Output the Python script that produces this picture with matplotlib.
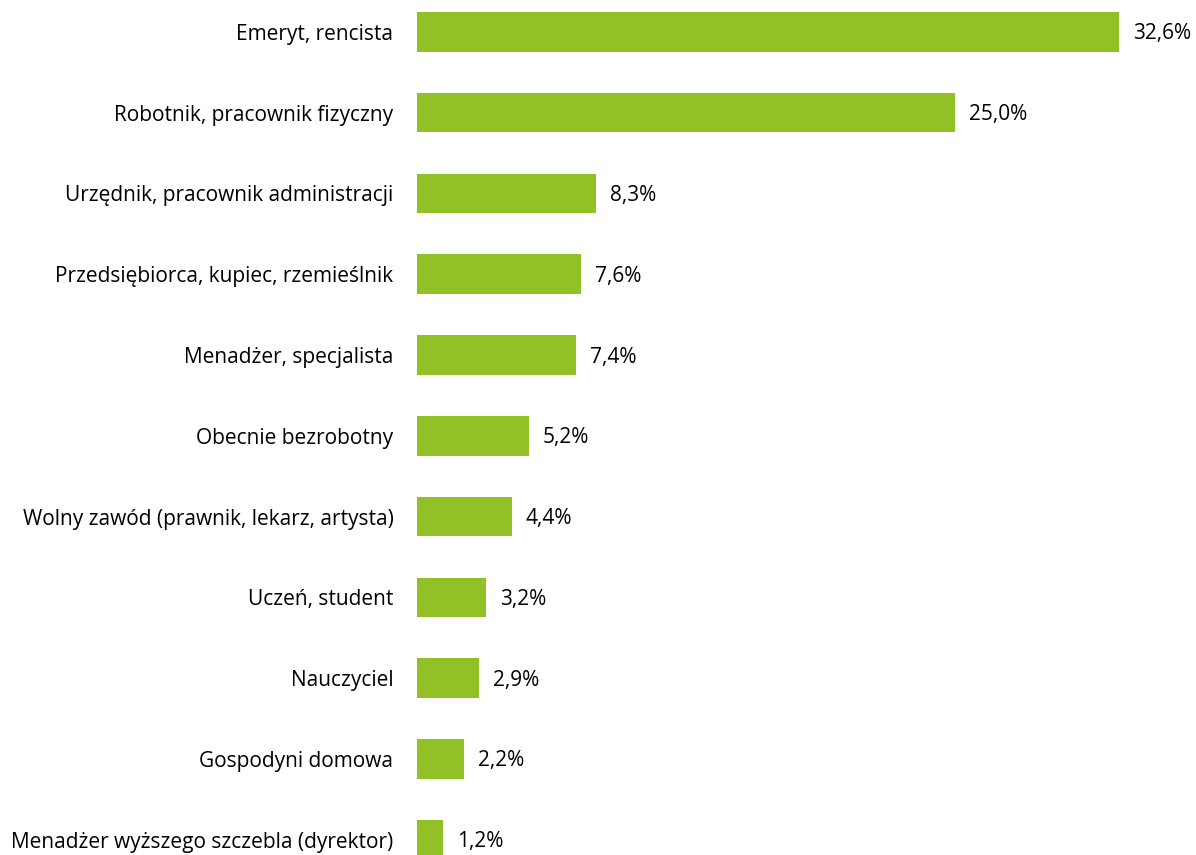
import matplotlib.pyplot as plt

plt.rcParams['font.family'] = ['Open Sans', 'DejaVu Sans']

categories = ["Emeryt, rencista", "Robotnik, pracownik fizyczny",
              "Urzędnik, pracownik administracji", "Przedsiębiorca, kupiec, rzemieślnik",
              "Menadżer, specjalista", "Obecnie bezrobotny",
              "Wolny zawód (prawnik, lekarz, artysta)", "Uczeń, student",
              "Nauczyciel", "Gospodyni domowa", "Menadżer wyższego szczebla (dyrektor)"]
values = [32.6, 25.0, 8.3, 7.6, 7.4, 5.2, 4.4, 3.2, 2.9, 2.2, 1.2]
labels = ["32,6%", "25,0%", "8,3%", "7,6%", "7,4%", "5,2%", "4,4%", "3,2%", "2,9%", "2,2%", "1,2%"]

W, H = 1196, 855
fig = plt.figure(figsize=(W / 100, H / 100), dpi=100)
ax = fig.add_axes([417 / W, 0, (1119 - 417) / W, (855 - 12) / H])

pos = list(range(len(values)))
ax.barh(pos, values, height=0.49, color="#92C127")
ax.set_xlim(0, 32.6)
ax.set_ylim(10.19, -0.245)

for p, v, t in zip(pos, values, labels):
    ax.annotate(t, (v, p), xytext=(10, -1.5), textcoords="offset points",
                va="center", ha="left", fontsize=15, annotation_clip=False)

ax.set_yticks(pos)
ax.set_yticklabels(categories, fontsize=15)
ax.tick_params(axis="y", length=0, pad=17)
ax.set_xticks([])
for s in ax.spines.values():
    s.set_visible(False)

fig.savefig("out.png", dpi=100)
